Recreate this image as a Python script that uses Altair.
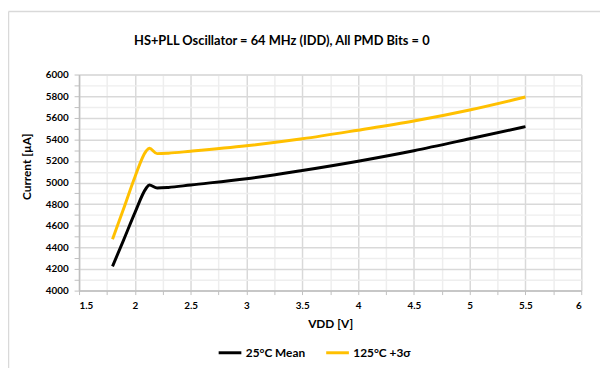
import altair as alt
import pandas as pd

vdd = [1.8, 1.9, 2.0, 2.1, 2.13, 2.2, 2.3, 2.5, 3.0, 3.5, 4.0, 4.5, 5.0, 5.5]
mean_25c = [4225, 4470, 4720, 4945, 4978, 4950, 4955, 4978, 5035, 5112, 5198, 5295, 5405, 5518]
hot_125c = [4475, 4760, 5050, 5290, 5318, 5268, 5272, 5290, 5340, 5405, 5485, 5570, 5672, 5792]
series_names = ["25°C Mean", "125°C +3σ"]
series_colors = ["#000000", "#FFC000"]

x_ticks = [1.5 + 0.25 * i for i in range(19)]
y_ticks = [4000 + 100 * i for i in range(21)]

rows = []
for name, vals in zip(series_names, [mean_25c, hot_125c]):
    for v, c in zip(vdd, vals):
        rows.append({"VDD": v, "Current": c, "Series": name})
df = pd.DataFrame(rows)

FONT = "Lato"

lines = alt.Chart(df).mark_line(strokeWidth=3, interpolate="monotone").encode(
    x=alt.X(
        "VDD:Q",
        scale=alt.Scale(domain=[1.5, 6], nice=False, zero=False),
        axis=alt.Axis(
            values=x_ticks,
            format="~g",
            labelExpr="datum.value % 0.5 == 0 ? datum.label : ''",
            title="VDD  [V]",
            titleFont=FONT, titleFontSize=12, titleFontWeight="bold", titleColor="#000",
            titlePadding=8,
            labelFont=FONT, labelFontSize=10, labelFontWeight="bold", labelColor="#000",
            labelPadding=6,
            grid=True,
            gridColor={"condition": {"test": "datum.value % 0.5 != 0", "value": "#eeeeee"}, "value": "#d9d9d9"},
            gridWidth=1.5,
            domainColor="#bfbfbf", domainWidth=1.5,
            tickColor="#bfbfbf", tickSize=4, tickWidth=1,
        ),
    ),
    y=alt.Y(
        "Current:Q",
        scale=alt.Scale(domain=[4000, 6000], nice=False, zero=False),
        axis=alt.Axis(
            values=y_ticks,
            format="d",
            labelExpr="datum.value % 200 == 0 ? datum.label : ''",
            title="Current [µA]",
            titleFont=FONT, titleFontSize=12, titleFontWeight="bold", titleColor="#000",
            titleAngle=-90, titleAlign="center", titleBaseline="middle",
            titleX=-53, titleY=93,
            labelFont=FONT, labelFontSize=10, labelFontWeight="bold", labelColor="#000",
            labelPadding=6,
            grid=True,
            gridColor={"condition": {"test": "datum.value % 200 != 0", "value": "#eeeeee"}, "value": "#d9d9d9"},
            gridWidth=1.5,
            domainColor="#bfbfbf", domainWidth=1.5,
            tickColor="#bfbfbf", tickSize=5, tickWidth=1,
        ),
    ),
    color=alt.Color(
        "Series:N",
        scale=alt.Scale(domain=series_names, range=series_colors),
        legend=alt.Legend(
            title=None, orient="none", direction="horizontal",
            legendX=140, legendY=269,
            symbolType="stroke", symbolSize=529, symbolStrokeWidth=3,
            labelFont=FONT, labelFontSize=12, labelFontWeight="bold", labelColor="#000",
            labelOffset=3, columnPadding=14, padding=0,
        ),
    ),
    order=alt.Order("VDD:Q"),
)

frame = alt.Chart(pd.DataFrame({"k": [0]})).mark_rule(color="#d9d9d9", strokeWidth=1.5).encode(
    x=alt.value(-71.5), x2=alt.value(600), y=alt.value(-64), y2=alt.value(-64)
)
frame_left = alt.Chart(pd.DataFrame({"k": [0]})).mark_rule(color="#d9d9d9", strokeWidth=1.5).encode(
    x=alt.value(-71.5), x2=alt.value(-71.5), y=alt.value(-64), y2=alt.value(300)
)

chart = alt.layer(lines, frame, frame_left).properties(
    width=509,
    height=219,
    padding={"left": 72, "top": 65, "right": 19, "bottom": 76},
    autosize=alt.AutoSizeParams(type="none"),
    title=alt.TitleParams(
        "HS+PLL Oscillator = 64 MHz (IDD), All PMD Bits = 0",
        font=FONT, fontSize=13, fontWeight="bold", color="#000",
        anchor="middle", dx=-49, offset=-38,
    ),
).configure_view(stroke="#bfbfbf", strokeWidth=1.5).configure(background="white")

chart.save("out.html", embed_options={"renderer": "svg", "actions": False})
